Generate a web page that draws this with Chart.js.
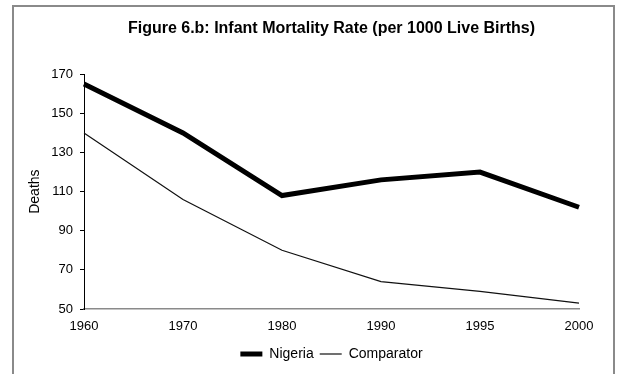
<!DOCTYPE html>
<html lang="en">
<head>
  <meta charset="UTF-8">
  <title>Infant Mortality Rate</title>
  <script src="https://cdn.jsdelivr.net/npm/chart.js"></script>
  <style>
    body { margin: 0; background: #fff; }
    #wrap { position: relative; width: 620px; height: 374px; overflow: hidden; }
    #frame {
      position: absolute; left: 12px; top: 5px; width: 599px; height: 420px;
      border: 2px solid #8a8a8a; border-bottom: none;
    }
    canvas { position: absolute; left: 0; top: 0; }
  </style>
</head>
<body>
  <div id="wrap">
    <div id="frame"></div>
    <canvas id="chart" width="620" height="374"></canvas>
  </div>

  <script>
    const years = ["1960", "1970", "1980", "1990", "1995", "2000"];
    const nigeria = [165, 140, 108, 116, 120, 102];
    const comparator = [140, 106, 80, 64, 59, 53];
    const yTicks = [50, 70, 90, 110, 130, 150, 170];

    const font = 'Arial, "Liberation Sans", sans-serif';
    Chart.defaults.font.family = font;
    Chart.defaults.font.size = 13;
    Chart.defaults.color = "#000";

    const padLeft = 27;

    const ctx = document.getElementById("chart").getContext("2d");
    new Chart(ctx, {
      type: "line",
      data: {
        labels: years,
        datasets: [
          {
            label: "Nigeria",
            data: nigeria,
            borderColor: "#000",
            backgroundColor: "#000",
            borderWidth: 5,
            pointRadius: 0,
            tension: 0
          },
          {
            label: "Comparator",
            data: comparator,
            borderColor: "#111",
            backgroundColor: "#111",
            borderWidth: 1.2,
            pointRadius: 0,
            tension: 0
          }
        ]
      },
      options: {
        responsive: false,
        animation: false,
        layout: { padding: { left: padLeft, right: 41, top: 0, bottom: 3 } },
        plugins: {
          title: {
            display: true,
            fullSize: false,
            text: "Figure 6.b: Infant Mortality Rate (per 1000 Live Births)",
            color: "#000",
            font: { size: 16, weight: "bold" },
            padding: { top: 19, bottom: 36 }
          },
          legend: {
            position: "bottom",
            fullSize: false,
            labels: {
              usePointStyle: true,
              pointStyle: "line",
              pointStyleWidth: 22,
              boxHeight: 14,
              padding: 6,
              color: "#000",
              font: { size: 14 }
            }
          },
          tooltip: { enabled: false }
        },
        scales: {
          x: {
            offset: false,
            grid: { display: true, drawOnChartArea: false, drawTicks: false },
            border: { color: "#8a8a8a", width: 1.5 },
            ticks: { padding: 10, maxRotation: 0, color: "#000" },
            afterFit: scale => { scale.height = 32; }
          },
          y: {
            min: 50,
            max: 170,
            afterBuildTicks: scale => { scale.ticks = yTicks.map(v => ({ value: v })); },
            grid: { display: true, drawOnChartArea: false, drawTicks: true, tickLength: 4, color: "#000" },
            border: { color: "#000", width: 1 },
            ticks: { padding: 7, color: "#000" },
            title: { display: true, text: "Deaths", color: "#000", padding: 0, font: { size: 14 } },
            afterFit: scale => { scale.width = 84 - padLeft; }
          }
        }
      }
    });
  </script>
</body>
</html>
